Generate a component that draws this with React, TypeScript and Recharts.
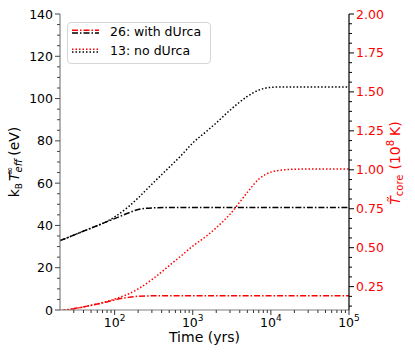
import { Legend, Line, LineChart, XAxis, YAxis } from 'recharts';

// cooling curves
const TIMES = [20, 30, 40, 60, 80, 100, 150, 200, 300, 500, 700, 1000, 1500, 2000, 3000, 5000, 7000, 10000, 15000, 20000, 50000, 100000];
const TEFF_26 = [32.8, 35.4, 37.3, 39.9, 41.8, 43.2, 45.9, 47.5, 48.3, 48.5, 48.5, 48.5, 48.5, 48.5, 48.5, 48.5, 48.5, 48.5, 48.5, 48.5, 48.5, 48.5];
const TEFF_13 = [32.8, 35.4, 37.3, 39.9, 41.9, 44, 48.8, 53, 59.5, 67.5, 72.8, 79, 84.5, 88.5, 94.5, 101, 104, 105.3, 105.5, 105.5, 105.5, 105.5];
const TCORE_26 = [0.095, 0.108, 0.12, 0.138, 0.152, 0.165, 0.181, 0.188, 0.191, 0.192, 0.192, 0.192, 0.192, 0.192, 0.192, 0.192, 0.192, 0.192, 0.192, 0.192, 0.192, 0.192];
const TCORE_13 = [0.095, 0.108, 0.12, 0.139, 0.155, 0.17, 0.203, 0.235, 0.295, 0.385, 0.445, 0.51, 0.575, 0.628, 0.715, 0.855, 0.94, 0.985, 1.0, 1.004, 1.005, 1.005];

const X_MAJOR = [100, 1000, 10000, 100000];
const X_TICKS = [30, 40, 50, 60, 70, 80, 90, 100, 200, 300, 400, 500, 600, 700, 800, 900, 1000, 2000, 3000, 4000, 5000, 6000, 7000, 8000, 9000, 10000, 20000, 30000, 40000, 50000, 60000, 70000, 80000, 90000, 100000];
const LEFT_TICKS = [0, 5, 10, 15, 20, 25, 30, 35, 40, 45, 50, 55, 60, 65, 70, 75, 80, 85, 90, 95, 100, 105, 110, 115, 120, 125, 130, 135, 140];
const RIGHT_TICKS = [0.125, 0.1875, 0.25, 0.3125, 0.375, 0.4375, 0.5, 0.5625, 0.625, 0.6875, 0.75, 0.8125, 0.875, 0.9375, 1, 1.0625, 1.125, 1.1875, 1.25, 1.3125, 1.375, 1.4375, 1.5, 1.5625, 1.625, 1.6875, 1.75, 1.8125, 1.875, 1.9375, 2];

const data = TIMES.map((t, i) => ({
  t,
  teff26: TEFF_26[i],
  teff13: TEFF_13[i],
  tcore26: TCORE_26[i],
  tcore13: TCORE_13[i],
}));

const FONT = 'DejaVu Sans';
const SPINE = '#808080';

function BottomTick(props: any) {
  const { x, y, payload } = props;
  const v = payload.value;
  const major = X_MAJOR.includes(v);
  return (
    <g>
      <line x1={x} x2={x} y1={y} y2={y + (major ? 5 : 3)} stroke="#333" />
      {major && (
        <text x={x} y={y + 17} textAnchor="middle" fontSize={12.5} fontFamily={FONT} fill="#000">
          10
          <tspan dy={-6} fontSize={9}>
            {Math.round(Math.log10(v))}
          </tspan>
        </text>
      )}
    </g>
  );
}

function LeftTick(props: any) {
  const { x, y, payload } = props;
  const v = payload.value;
  const major = v % 20 === 0;
  return (
    <g>
      <line x1={x} x2={x - (major ? 5 : 3)} y1={y} y2={y} stroke="#444" />
      {major && (
        <text x={x - 7} y={y} dy="0.36em" textAnchor="end" fontSize={12.5} fontFamily={FONT} fill="#000">
          {v}
        </text>
      )}
    </g>
  );
}

function RightTick(props: any) {
  const { x, y, payload } = props;
  const v = payload.value;
  const major = Math.abs(v / 0.25 - Math.round(v / 0.25)) < 1e-6;
  return (
    <g>
      <line x1={x} x2={x + (major ? 5 : 3)} y1={y} y2={y} stroke="#000" />
      {major && (
        <text x={x + 7} y={y} dy="0.36em" textAnchor="start" fontSize={12.5} fontFamily={FONT} fill="#ff0000">
          {v.toFixed(2)}
        </text>
      )}
    </g>
  );
}

function BottomLabel() {
  return (
    <text x={204.5} y={342} textAnchor="middle" fontSize={14} fontFamily={FONT} fill="#000">
      Time (yrs)
    </text>
  );
}

function LeftLabel() {
  return (
    <text x={19} y={162} transform="rotate(-90 19 162)" textAnchor="middle" fontSize={14} fontFamily={FONT} fill="#000">
      k
      <tspan dy={3} fontSize={9}>B</tspan>
      <tspan dy={-3} dx={2} fontStyle="italic">T</tspan>
      <tspan dy={3} fontSize={10} fontStyle="italic">eff</tspan>
      <tspan dx={-16} dy={-9} fontSize={10}>∞</tspan>
      <tspan dx={11} dy={6}>(eV)</tspan>
    </text>
  );
}

function RightLabel() {
  return (
    <text x={400} y={163} transform="rotate(-90 400 163)" textAnchor="middle" fontSize={14} fontFamily={FONT} fill="#ff0000">
      <tspan fontStyle="italic">T̃</tspan>
      <tspan dy={3} fontSize={10}>core</tspan>
      <tspan dx={5} dy={-3}>(10</tspan>
      <tspan dy={-6} fontSize={10}>8</tspan>
      <tspan dx={4} dy={6}>K)</tspan>
    </text>
  );
}

function LegendBox() {
  const rows = [
    { label: '26: with dUrca', dash: '6 2 1.5 2', y: 8.5 },
    { label: '13: no dUrca', dash: '1.5 2', y: 27.5 },
  ];
  return (
    <div
      style={{
        width: 144,
        height: 42,
        boxSizing: 'border-box',
        border: '1px solid #d6d6d6',
        borderRadius: 4,
        background: 'rgba(255,255,255,0.8)',
      }}
    >
      <svg width={142} height={40} style={{ display: 'block' }}>
        {rows.map((r) => (
          <g key={r.label}>
            <line x1={4} x2={31} y1={r.y - 1.3} y2={r.y - 1.3} stroke="#ff0000" strokeWidth={1.5} strokeDasharray={r.dash} />
            <line x1={4} x2={31} y1={r.y + 1.5} y2={r.y + 1.5} stroke="#000" strokeWidth={1.5} strokeDasharray={r.dash} />
            <text x={42} y={r.y + 4.5} fontSize={12.5} fontFamily={FONT} fill="#000">
              {r.label}
            </text>
          </g>
        ))}
      </svg>
    </div>
  );
}

export default function App() {
  return (
    <div style={{ position: 'absolute', left: 0, top: 0, width: 415, height: 356, background: '#fff' }}>
      <LineChart width={415} height={356} data={data} margin={{ top: 14, right: 0, bottom: 0, left: 0 }}>
        <XAxis
          dataKey="t"
          type="number"
          scale="log"
          domain={[20, 100000]}
          allowDataOverflow
          ticks={X_TICKS}
          interval={0}
          height={46}
          tickSize={0}
          tickMargin={0}
          tickLine={false}
          tick={<BottomTick />}
          axisLine={{ stroke: SPINE, strokeWidth: 1.2 }}
          label={<BottomLabel />}
        />
        <XAxis
          xAxisId="top"
          orientation="top"
          type="number"
          scale="log"
          domain={[20, 100000]}
          allowDataOverflow
          height={0}
          tick={false}
          tickLine={false}
          axisLine={{ stroke: SPINE, strokeWidth: 1.2 }}
        />
        <YAxis
          yAxisId="left"
          type="number"
          domain={[0, 140]}
          allowDataOverflow
          ticks={LEFT_TICKS}
          interval={0}
          width={60}
          tickSize={0}
          tickMargin={0}
          tickLine={false}
          tick={<LeftTick />}
          axisLine={{ stroke: SPINE, strokeWidth: 1.2 }}
          label={<LeftLabel />}
        />
        <YAxis
          yAxisId="right"
          orientation="right"
          type="number"
          domain={[0.1, 2]}
          allowDataOverflow
          ticks={RIGHT_TICKS}
          interval={0}
          width={66}
          tickSize={0}
          tickMargin={0}
          tickLine={false}
          tick={<RightTick />}
          axisLine={{ stroke: '#000', strokeWidth: 1.2 }}
          label={<RightLabel />}
        />
        <Line yAxisId="left" type="monotone" dataKey="teff26" stroke="#000" strokeWidth={1.5} strokeDasharray="6 2 1.5 2" dot={false} isAnimationActive={false} />
        <Line yAxisId="left" type="monotone" dataKey="teff13" stroke="#000" strokeWidth={1.5} strokeDasharray="1.5 2" dot={false} isAnimationActive={false} />
        <Line yAxisId="right" type="monotone" dataKey="tcore26" stroke="#ff0000" strokeWidth={1.5} strokeDasharray="6 2 1.5 2" dot={false} isAnimationActive={false} />
        <Line yAxisId="right" type="monotone" dataKey="tcore13" stroke="#ff0000" strokeWidth={1.5} strokeDasharray="1.5 2" dot={false} isAnimationActive={false} />
        <Legend
          layout="vertical"
          verticalAlign="middle"
          align="center"
          content={<LegendBox />}
          wrapperStyle={{ left: 67, top: 22, width: 144, height: 42 }}
        />
      </LineChart>
    </div>
  );
}
